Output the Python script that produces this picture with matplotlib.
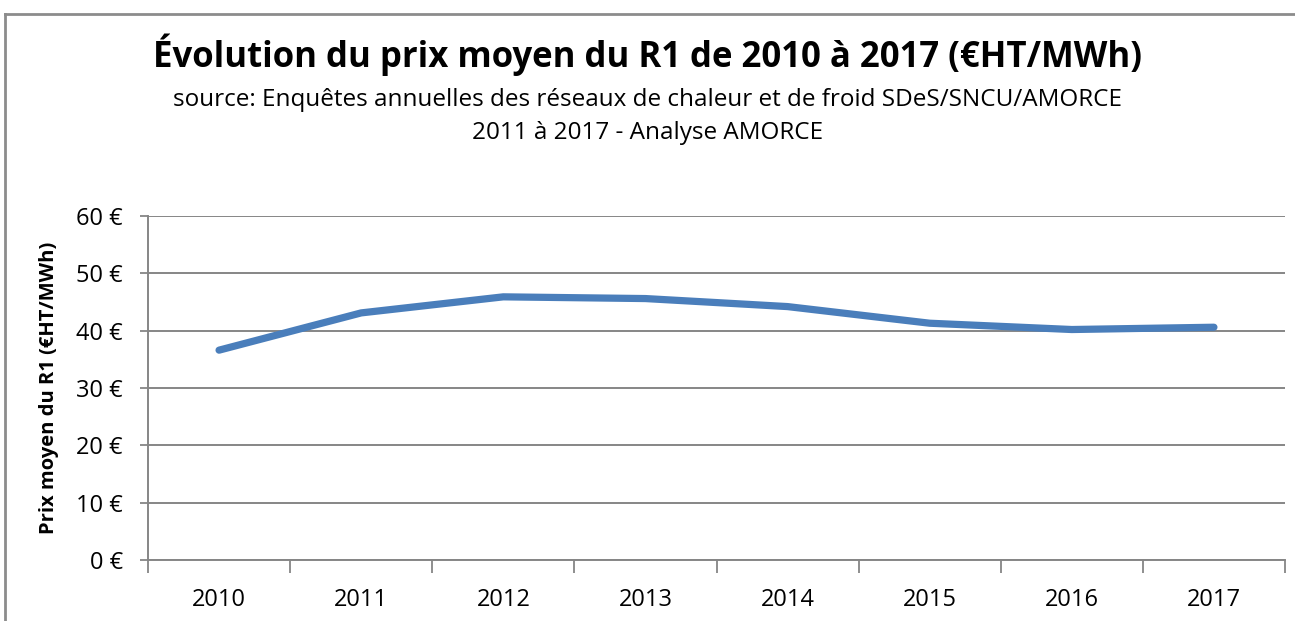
import matplotlib.pyplot as plt
from matplotlib.lines import Line2D

annees = ["2010", "2011", "2012", "2013", "2014", "2015", "2016", "2017"]
prix_r1 = [36.6, 43.1, 45.9, 45.6, 44.2, 41.3, 40.2, 40.6]
yticks = [0, 10, 20, 30, 40, 50, 60]

plt.rcParams['font.family'] = ['Open Sans', 'DejaVu Sans']

W, H = 1295, 621
fig = plt.figure(figsize=(W / 100, H / 100), dpi=100)
ax = fig.add_axes([148 / W, 1 - 560 / H, (1285 - 148) / W, (560 - 216) / H])

gris = "#868686"
x = list(range(len(annees)))
ax.plot(x, prix_r1, color="#4A7EBB", lw=5.2, solid_capstyle="round", zorder=3)

ax.set_ylim(0, 60)
ax.set_xlim(-0.5, len(annees) - 0.5)
ax.set_yticks(yticks)
ax.set_yticklabels([f"{v} €" for v in yticks], fontsize=17)
ax.set_xticks(x)
ax.set_xticklabels(annees, fontsize=17)
ax.set_xticks([i - 0.5 for i in range(len(annees) + 1)], minor=True)
ax.tick_params(axis="x", which="major", length=0, pad=20)
ax.tick_params(axis="x", which="minor", length=9, width=1.3, color=gris)
ax.tick_params(axis="y", length=6, width=1.3, color=gris, pad=12)
ax.grid(axis="y", color=gris, lw=1.4)
for s in ["top", "right"]:
    ax.spines[s].set_visible(False)
for s in ["left", "bottom"]:
    ax.spines[s].set_color(gris)
    ax.spines[s].set_linewidth(1.4)

ax.set_ylabel("Prix moyen du R1 (€HT/MWh)", fontsize=14.5, fontweight="bold")
ax.yaxis.set_label_coords(-0.078, 0.5)

fig.text(0.5, 1 - 55 / H, "Évolution du prix moyen du R1 de 2010 à 2017 (€HT/MWh)",
         ha="center", va="center", fontsize=25, fontweight="bold")
fig.text(0.5, 1 - 100 / H, "source: Enquêtes annuelles des réseaux de chaleur et de froid SDeS/SNCU/AMORCE",
         ha="center", va="center", fontsize=17.5)
fig.text(0.5, 1 - 133 / H, "2011 à 2017 - Analyse AMORCE",
         ha="center", va="center", fontsize=17.5)

# cadre du graphique
fig.add_artist(Line2D([5 / W, 1], [1 - 14 / H, 1 - 14 / H], color="#8c8c8c", lw=2))
fig.add_artist(Line2D([5 / W, 5 / W], [0, 1 - 14 / H], color="#8c8c8c", lw=2))

fig.savefig("out.png", dpi=100)
